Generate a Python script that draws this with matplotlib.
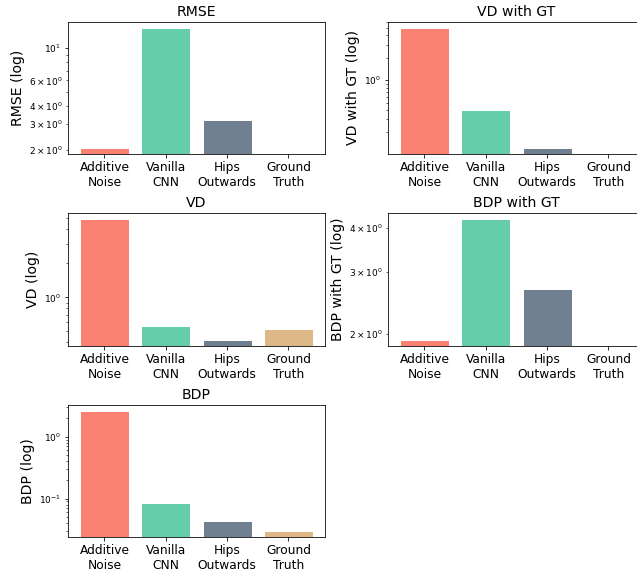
import matplotlib
matplotlib.use("Agg")
import matplotlib.pyplot as plt

categories = ["Additive\nNoise", "Vanilla\nCNN", "Hips\nOutwards", "Ground\nTruth"]
colors = ["salmon", "mediumaquamarine", "slategray", "burlywood"]

rmse = [2.05, 13.8, 3.21, 0.0]
vd_gt = [5.07, 0.40, 0.123, 0.0]
vd = [4.91, 0.555, 0.42, 0.525]
bdp_gt = [1.92, 4.22, 2.68, 0.0]
bdp = [2.65, 0.084, 0.043, 0.0295]

panels = [
    ("RMSE", "RMSE (log)", rmse),
    ("VD with GT", "VD with GT (log)", vd_gt),
    ("VD", "VD (log)", vd),
    ("BDP with GT", "BDP with GT (log)", bdp_gt),
    ("BDP", "BDP (log)", bdp),
]

W, H = 637, 573
fig = plt.figure(figsize=(W / 72, H / 72), dpi=72)

lefts = [68.3 / W, 388.3 / W]
width = 256.3 / W
bottoms = [1 - 154.3 / H, 1 - 346.0 / H, 1 - 537.3 / H]
height = 132.7 / H

for i, (title, ylabel, vals) in enumerate(panels):
    r, c = divmod(i, 2)
    ax = fig.add_axes([lefts[c], bottoms[r], width, height])
    x = list(range(len(categories)))
    ax.bar(x, vals, color=colors, edgecolor="white", linewidth=1.0, width=0.8)
    ax.set_yscale("log")
    ax.set_xticks(x)
    ax.set_xticklabels(categories, fontsize=12.3)
    ax.tick_params(axis="y", which="both", labelsize=9)
    ax.set_title(title, fontsize=14)
    ax.set_ylabel(ylabel, fontsize=14)

fig.savefig("out.png", dpi=72)
